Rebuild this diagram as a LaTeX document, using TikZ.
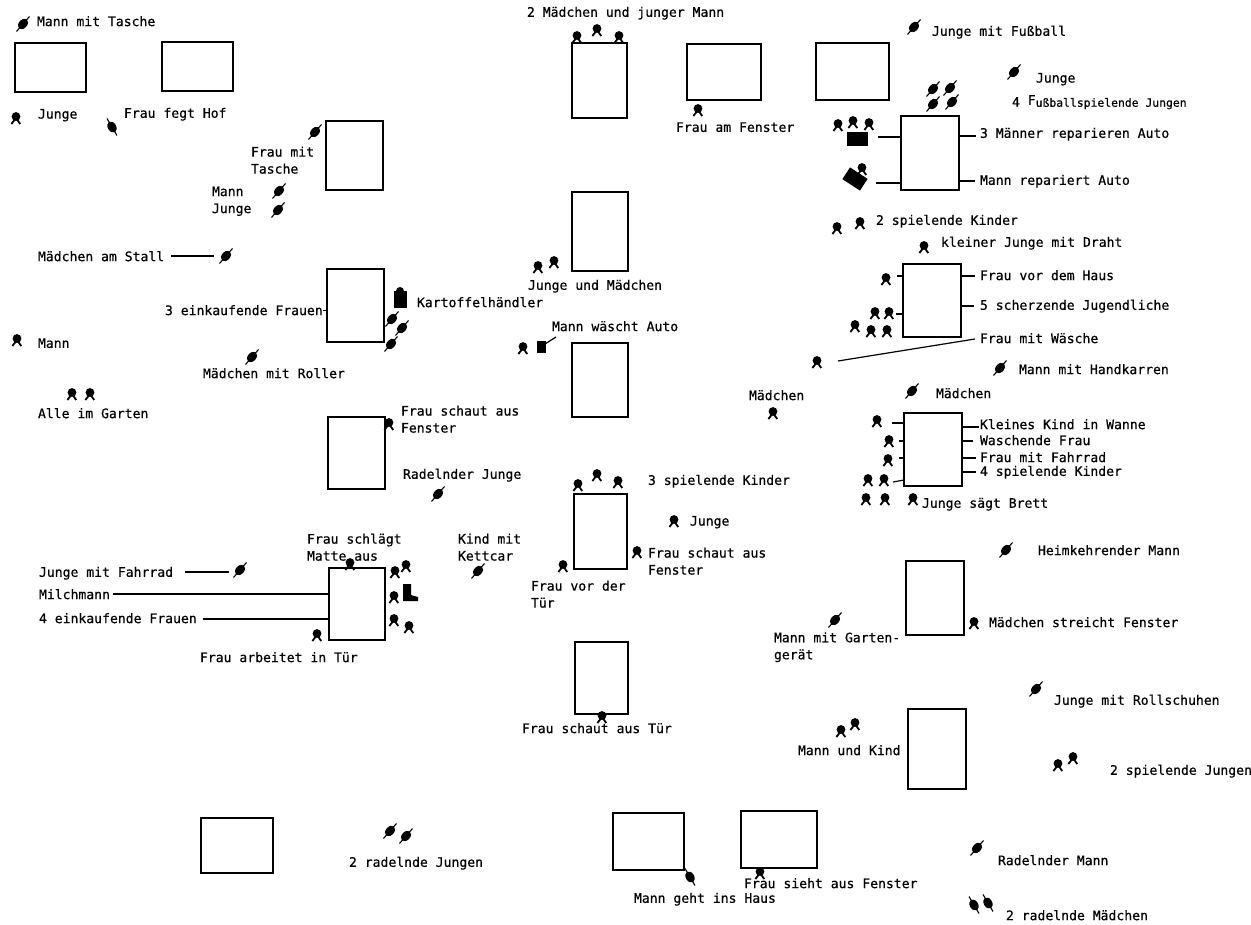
\documentclass[tikz,border=0pt]{standalone}
\usepackage{fontspec}
\setmainfont[FakeBold=0.5]{DejaVu Sans Mono}
\tikzset{
  x=1pt,y=-1pt,
  lbl/.style={anchor=west,inner sep=0pt,outer sep=0pt,align=left,yshift=-0.2pt,font=\fontsize{13.1}{17}\selectfont,text=black},
  bx/.style={draw=black,line width=1.6pt,rectangle,inner sep=0pt,outer sep=0pt},
  ln/.style={draw=black,line width=1.2pt},
  solid block/.style={fill=black,inner sep=0pt,outer sep=0pt,rectangle},
  pics/kid/.style={code={
    \fill[black] (0,-1.5) circle (4.4);
    \draw[black,line width=1.8pt] (-4.6,6) -- (0,0) -- (4.2,6);
  }},
  pics/rider/.style={code={
    \fill[black,rotate=48] (0,0) ellipse (6 and 4.2);
    \draw[black,line width=1.1pt] (-6.5,7.5) -- (6.5,-7.5);
  }},
  pics/riderb/.style={code={
    \fill[black,rotate=-60] (0,0) ellipse (6 and 4.2);
    \draw[black,line width=1.1pt] (-5,-8.5) -- (5,8.5);
  }},
}
\newcommand{\bxn}[5]{\node[bx,minimum width=#4-#2,minimum height=#5-#3] (#1) at ({(#2+#4)/2},{(#3+#5)/2}) {};}
\begin{document}
\begin{tikzpicture}
\useasboundingbox (0,0) rectangle (1251,925);
% boxes
\bxn{bA}{15}{43}{86}{92}
\bxn{bB}{162}{42}{233}{91}
\bxn{bC}{326}{121}{383}{190}
\bxn{bD}{327}{269}{384}{342}
\bxn{bE}{328}{417}{385}{489}
\bxn{bF}{329}{568}{385}{640}
\bxn{bG}{201}{818}{273}{873}
\bxn{bH}{572}{43}{627}{118}
\bxn{bI}{687}{44}{761}{100}
\bxn{bJ}{816}{43}{889}{100}
\bxn{bK}{901}{116}{959}{190}
\bxn{bL}{572}{192}{628}{271}
\bxn{bM}{572}{343}{628}{417}
\bxn{bN}{903}{264}{961}{337}
\bxn{bO}{904}{413}{962}{486}
\bxn{bP}{574}{494}{627}{569}
\bxn{bQ}{575}{642}{628}{714}
\bxn{bR}{906}{561}{964}{635}
\bxn{bS}{908}{709}{966}{789}
\bxn{bT}{613}{813}{684}{870}
\bxn{bU}{741}{811}{817}{868}
% labels
\node[lbl] (t1) at (37,21) {Mann mit Tasche};
\node[lbl] (t2) at (38,115) {Junge};
\node[lbl] (t3) at (124,114) {Frau fegt Hof};
\node[lbl] (t4) at (251,160) {Frau mit\\Tasche};
\node[lbl] (t5) at (212,201) {Mann\\Junge};
\node[lbl] (t6) at (38,256) {Mädchen am Stall};
\node[lbl] (t7) at (165,310) {3 einkaufende Frauen};
\node[lbl] (t8) at (417,302) {Kartoffelhändler};
\node[lbl] (t9) at (38,343) {Mann};
\node[lbl] (t10) at (203,373) {Mädchen mit Roller};
\node[lbl] (t11) at (38,413) {Alle im Garten};
\node[lbl] (t12) at (401,419) {Frau schaut aus\\Fenster};
\node[lbl] (t13) at (403,475) {Radelnder Junge};
\node[lbl] (t14) at (307,547) {Frau schlägt\\Matte aus};
\node[lbl] (t15) at (458,547) {Kind mit\\Kettcar};
\node[lbl] (t16) at (39,573) {Junge mit Fahrrad};
\node[lbl] (t17) at (39,594) {Milchmann};
\node[lbl] (t18) at (39,618) {4 einkaufende Frauen};
\node[lbl] (t19) at (200,657) {Frau arbeitet in Tür};
\node[lbl] (t20) at (349,863) {2 radelnde Jungen};
\node[lbl] (t21) at (527,13) {2 Mädchen und junger Mann};
\node[lbl] (t22) at (676,127) {Frau am Fenster};
\node[lbl] (t23) at (528,286) {Junge und Mädchen};
\node[lbl] (t24) at (552,326) {Mann wäscht Auto};
\node[lbl] (t25) at (648,481) {3 spielende Kinder};
\node[lbl] (t26) at (690,522) {Junge};
\node[lbl] (t27) at (648,561) {Frau schaut aus\\Fenster};
\node[lbl] (t28) at (531,594) {Frau vor der\\Tür};
\node[lbl] (t29) at (522,728) {Frau schaut aus Tür};
\node[lbl] (t30) at (634,899) {Mann geht ins Haus};
\node[lbl] (t31) at (744,883) {Frau sieht aus Fenster};
\node[lbl] (t32) at (932,32) {Junge mit Fußball};
\node[lbl] (t33) at (1036,79) {Junge};
\node[lbl] (t34) at (1012,102) {4 \raisebox{2pt}{F}{\fontsize{11.4}{17}\selectfont ußballspielende Jungen}};
\node[lbl] (t35) at (980,134) {3 Männer reparieren Auto};
\node[lbl] (t36) at (980,181) {Mann repariert Auto};
\node[lbl] (t37) at (876,221) {2 spielende Kinder};
\node[lbl] (t38) at (941,243) {kleiner Junge mit Draht};
\node[lbl] (t39) at (980,275) {Frau vor dem Haus};
\node[lbl] (t40) at (980,306) {5 scherzende Jugendliche};
\node[lbl] (t41) at (980,338) {Frau mit Wäsche};
\node[lbl] (t42) at (1019,369) {Mann mit Handkarren};
\node[lbl] (t43) at (749,395) {Mädchen};
\node[lbl] (t44) at (936,393) {Mädchen};
\node[lbl] (t45) at (980,424) {Kleines Kind in Wanne};
\node[lbl] (t46) at (980,440) {Waschende Frau};
\node[lbl] (t47) at (980,457) {Frau mit Fahrrad};
\node[lbl] (t48) at (980,472) {4 spielende Kinder};
\node[lbl] (t49) at (922,504) {Junge sägt Brett};
\node[lbl] (t50) at (1038,550) {Heimkehrender Mann};
\node[lbl] (t51) at (989,622) {Mädchen streicht Fenster};
\node[lbl] (t52) at (774,647) {Mann mit Garten-\\gerät};
\node[lbl] (t53) at (1054,701) {Junge mit Rollschuhen};
\node[lbl] (t54) at (798,750) {Mann und Kind};
\node[lbl] (t55) at (1110,771) {2 spielende Jungen};
\node[lbl] (t56) at (998,860) {Radelnder Mann};
\node[lbl] (t57) at (1006,915) {2 radelnde Mädchen};
% figures: children/adults
\foreach \x/\y in {16/118,17/340,72/394,90/394,389/424,350/564,395/572,406/566,394/597,394/620,409/627,317/635,577/37,597/30,619/37,698/110,538/267,554/262,523/348,838/125,853/122,869/124,837/228,860/223,924/247,886/279,875/313,889/313,855/326,871/331,887/331,817/362,773/413,877/421,889/441,888/460,868/480,884/480,866/499,885/499,913/499,578/485,597/475,618/482,563/566,637/552,674/521,974/623,841/731,855/724,1058/765,1073/758,602/717,760/873,862/169}
  {\pic at (\x,\y) {kid};}
% riders
\foreach \x/\y in {23/24,315/132,279/191,278/210,226/256,392/319,402/328,391/344,252/357,438/494,240/570,478/571,390/831,406/836,835/620,1006/550,1036/689,977/848,1014/72,914/27,933/89,950/88,933/104,952/102,912/391,1000/368}
  {\pic at (\x,\y) {rider};}
\foreach \x/\y in {112/127,974/905,988/903,690/877}
  {\pic at (\x,\y) {riderb};}
% vehicles and carts
\node[solid block,minimum width=21,minimum height=14] (vanA) at (857.5,139) {};
\node[solid block,minimum width=21,minimum height=14,rotate=-33] (vanB) at (855,179) {};
\node[solid block,minimum width=13,minimum height=17] (cart) at (400.5,300) {};
\fill[black] (400,291) circle (4);
\node[solid block,minimum width=9,minimum height=12] (car) at (541,347.5) {};
\fill[black] (403,584) -- (411,584) -- (411,595) -- (418,597) -- (418,601) -- (403,601) -- cycle;
% connectors
\coordinate (c6a) at (171,256); \coordinate (c6b) at (214,256);
\draw[ln] (c6a) -- (c6b);
\draw[ln] (t7.east) -- (t7.east -| bD.west);
\coordinate (c16a) at (185,572); \coordinate (c16b) at (229,572);
\draw[ln] (c16a) -- (c16b);
\coordinate (c17) at (113,594); \draw[ln] (c17) -- (c17 -| bF.west);
\coordinate (c18) at (203,619); \draw[ln] (c18) -- (c18 -| bF.west);
\coordinate (c24a) at (545,344); \coordinate (c24b) at (556,337);
\draw[ln] (c24a) -- (c24b);
\coordinate (k1) at (878,137); \draw[ln] (k1) -- (k1 -| bK.west);
\coordinate (k2) at (876,183); \draw[ln] (k2) -- (k2 -| bK.west);
\coordinate (k3) at (976,136); \draw[ln] (k3) -- (k3 -| bK.east);
\coordinate (k4) at (975,181); \draw[ln] (k4) -- (k4 -| bK.east);
\coordinate (n1) at (897,276); \draw[ln] (n1) -- (n1 -| bN.west);
\coordinate (n2) at (896,314); \draw[ln] (n2) -- (n2 -| bN.west);
\coordinate (n3) at (975,276); \draw[ln] (n3) -- (n3 -| bN.east);
\coordinate (n4) at (974,306); \draw[ln] (n4) -- (n4 -| bN.east);
\coordinate (n5a) at (838,361); \coordinate (n5b) at (975,339);
\draw[ln] (n5a) -- (n5b);
\coordinate (o1) at (892,423); \draw[ln] (o1) -- (o1 -| bO.west);
\coordinate (o2) at (899,441); \draw[ln] (o2) -- (o2 -| bO.west);
\coordinate (o3) at (899,458); \draw[ln] (o3) -- (o3 -| bO.west);
\coordinate (o4a) at (893,482); \coordinate (o4b) at (904,480);
\draw[ln] (o4a) -- (o4b);
\coordinate (o5) at (979,427); \draw[ln] (o5) -- (o5 -| bO.east);
\coordinate (o6) at (973,441); \draw[ln] (o6) -- (o6 -| bO.east);
\coordinate (o7) at (976,458); \draw[ln] (o7) -- (o7 -| bO.east);
\coordinate (o8) at (976,472); \draw[ln] (o8) -- (o8 -| bO.east);
\end{tikzpicture}
\end{document}
